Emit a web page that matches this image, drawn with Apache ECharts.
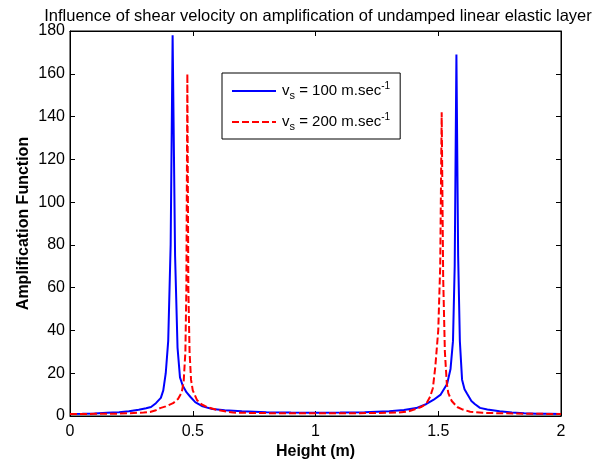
<!DOCTYPE html>
<html>
<head>
<meta charset="utf-8">
<script src="https://cdn.jsdelivr.net/npm/echarts@6/dist/echarts.min.js"></script>
<style>html,body{margin:0;padding:0;background:#fff}#c{width:598px;height:467px}</style>
</head>
<body>
<div id="c"></div>
<script>
var titleText = 'Influence of shear velocity on amplification of undamped linear elastic layer';
var xName = 'Height (m)';
var yName = 'Amplification Function';
var xTicks = [0, 0.5, 1, 1.5, 2];
var yTicks = [0, 20, 40, 60, 80, 100, 120, 140, 160, 180];

var blueX = [0, 0.05, 0.1, 0.15, 0.2, 0.24, 0.28, 0.31, 0.33, 0.35, 0.37, 0.38, 0.39, 0.40, 0.41, 0.418, 0.428, 0.438, 0.448, 0.46, 0.475, 0.49, 0.51, 0.54, 0.58, 0.63, 0.7, 0.8, 0.9, 1.0, 1.1, 1.2, 1.3, 1.36, 1.41, 1.45, 1.48, 1.51, 1.536, 1.55, 1.56, 1.567, 1.574, 1.581, 1.588, 1.597, 1.607, 1.617, 1.635, 1.65, 1.67, 1.7, 1.75, 1.8, 1.85, 1.9, 1.95, 2.0];
var blueY = [0.9, 1.0, 1.2, 1.5, 1.8, 2.2, 2.9, 3.6, 4.2, 6, 8.5, 12, 20, 35, 80, 178, 75, 32, 18, 14, 11, 9, 6.5, 4.5, 3.3, 2.7, 2.2, 1.8, 1.6, 1.5, 1.6, 1.8, 2.2, 2.8, 3.7, 5.5, 7.5, 10, 15, 22, 35, 70, 169, 75, 35, 17, 12.5, 10.5, 7, 5.5, 3.8, 3, 2.2, 1.6, 1.3, 1.1, 1.0, 0.9];

var redX = [0, 0.1, 0.2, 0.26, 0.3, 0.326, 0.35, 0.367, 0.39, 0.42, 0.44, 0.455, 0.463, 0.47, 0.474, 0.478, 0.482, 0.487, 0.493, 0.5, 0.517, 0.535, 0.558, 0.6, 0.664, 0.75, 0.85, 1.0, 1.15, 1.25, 1.336, 1.38, 1.43, 1.45, 1.467, 1.478, 1.488, 1.5, 1.508, 1.514, 1.52, 1.527, 1.535, 1.541, 1.555, 1.577, 1.6, 1.63, 1.68, 1.75, 1.85, 2.0];
var redY = [0.9, 1.0, 1.1, 1.4, 1.6, 1.9, 2.7, 3.7, 4.5, 6, 8, 11, 16, 30, 60, 160, 60, 30, 17, 12, 7.5, 5.5, 4.2, 2.8, 1.6, 1.4, 1.3, 1.3, 1.3, 1.4, 1.6, 2.2, 4.2, 5.5, 9, 13, 23, 40, 70, 142, 65, 30, 15, 10.7, 7, 4.2, 3, 2, 1.5, 1.3, 1.1, 0.9];

function pairs(xs, ys) { return xs.map(function (x, i) { return [x, ys[i]]; }); }

var FONT = "'Liberation Sans', Arial, Helvetica, sans-serif";
var chart = echarts.init(document.getElementById('c'), null, { renderer: 'canvas' });

function axisBase(extra) {
  var o = {
    axisLine: { show: true, onZero: false, lineStyle: { color: '#000', width: 1 } },
    axisTick: { show: true, inside: true, length: 5, lineStyle: { color: '#000', width: 1 } },
    splitLine: { show: false }
  };
  for (var k in extra) o[k] = extra[k];
  return o;
}

var richLegend = {
  v: { fontSize: 15, fontFamily: FONT, color: '#000', lineHeight: 20, verticalAlign: 'middle' },
  s: { fontSize: 11, fontFamily: FONT, color: '#000', lineHeight: 11, verticalAlign: 'bottom', padding: [6, 0, 0, 0] },
  t: { fontSize: 15, fontFamily: FONT, color: '#000', lineHeight: 20, verticalAlign: 'middle' },
  p: { fontSize: 10, fontFamily: FONT, color: '#000', lineHeight: 10, verticalAlign: 'top', padding: [0, 0, 4, 0] }
};

var solidIcon = 'path://M0,0h44v2h-44z';
var dashIcon = 'path://M0,0h7v2h-7z M10,0h7v2h-7z M20,0h7v2h-7z M30,0h7v2h-7z M40,0h4v2h-4z';

chart.setOption({
  animation: false,
  backgroundColor: '#fff',
  title: {
    text: titleText,
    left: 313, top: 3, textAlign: 'center',
    textStyle: { fontFamily: FONT, fontSize: 16.5, fontWeight: 'normal', color: '#000' }
  },
  grid: { left: 70, right: 37, top: 31, bottom: 51, show: true, borderColor: '#000', borderWidth: 1, backgroundColor: '#fff' },
  legend: {
    orient: 'vertical',
    left: 222, top: 73,
    backgroundColor: '#fff',
    borderColor: '#000', borderWidth: 1,
    padding: [8, 10, 7, 10],
    itemWidth: 44, itemHeight: 2, itemGap: 11,
    formatter: function (name) {
      return name === 'a' ? '{v|v}{s|s}{t| = 100 m.sec}{p|-1}' : '{v|v}{s|s}{t| = 200 m.sec}{p|-1}';
    },
    textStyle: { rich: richLegend, fontFamily: FONT, fontSize: 15, color: '#000', padding: [0, 0, 0, 1] },
    data: [
      { name: 'a', icon: solidIcon, itemStyle: { color: '#0000ff' } },
      { name: 'b', icon: dashIcon, itemStyle: { color: '#ff0000' } }
    ]
  },
  xAxis: [
    axisBase({
      type: 'value', min: 0, max: 2, interval: 0.5, position: 'bottom',
      name: xName, nameLocation: 'middle', nameGap: 28, nameMoveOverlap: false,
      nameTextStyle: { fontFamily: FONT, fontSize: 16, fontWeight: 'bold', color: '#000' },
      axisLabel: { fontFamily: FONT, fontSize: 16, color: '#000', margin: 8, formatter: function (v) { return String(v); } }
    }),
    axisBase({
      type: 'value', min: 0, max: 2, interval: 0.5, position: 'top',
      axisLabel: { show: false }
    })
  ],
  yAxis: [
    axisBase({
      type: 'value', min: 0, max: 180, interval: 20, position: 'left',
      name: yName, nameLocation: 'middle', nameGap: 38, nameRotate: 90, nameMoveOverlap: false,
      nameTextStyle: { fontFamily: FONT, fontSize: 16, fontWeight: 'bold', color: '#000' },
      axisLabel: { fontFamily: FONT, fontSize: 16, color: '#000', margin: 5 }
    }),
    axisBase({
      type: 'value', min: 0, max: 180, interval: 20, position: 'right',
      axisLabel: { show: false }
    })
  ],
  series: [
    {
      name: 'a', type: 'line', xAxisIndex: 0, yAxisIndex: 0,
      data: pairs(blueX, blueY), showSymbol: false, symbol: 'none',
      color: '#0000ff',
      lineStyle: { color: '#0000ff', width: 2 }
    },
    {
      name: 'b', type: 'line', xAxisIndex: 0, yAxisIndex: 0,
      data: pairs(redX, redY), showSymbol: false, symbol: 'none',
      color: '#ff0000',
      lineStyle: { color: '#ff0000', width: 2, type: [7, 3] }
    }
  ]
});
</script>
</body>
</html>
